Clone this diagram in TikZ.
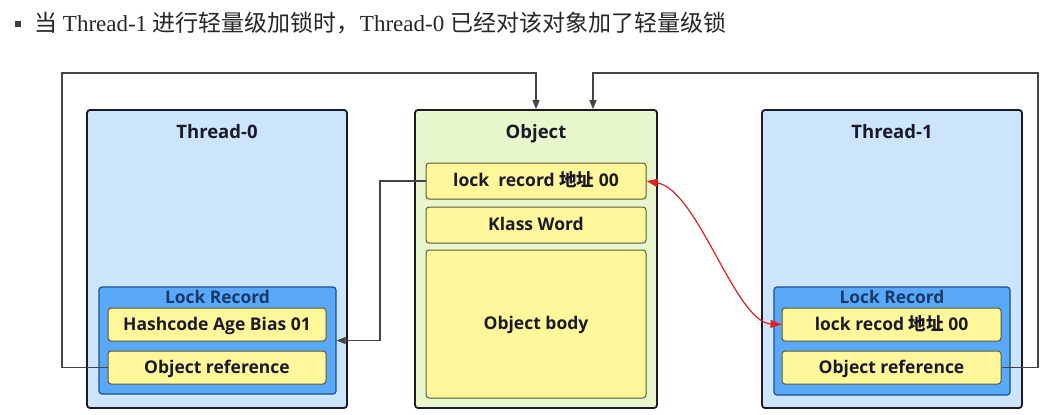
\documentclass[tikz,border=0pt]{standalone}
\usepackage{fontspec}
\setmainfont{Liberation Serif}
\newfontfamily\cjk{Noto Sans CJK SC}
\newfontfamily\lab{Open Sans}
\usetikzlibrary{arrows.meta}
\definecolor{threadfill}{HTML}{CCE5FB}
\definecolor{objfill}{HTML}{E8F7CC}
\definecolor{lrfill}{HTML}{5AA8F8}
\definecolor{lrdraw}{HTML}{1F4E8C}
\definecolor{yfill}{HTML}{FFF79A}
\definecolor{ydraw}{HTML}{5A5A3A}
\definecolor{txt}{HTML}{1A1A2A}
\definecolor{conncol}{HTML}{444444}
\definecolor{redc}{HTML}{E02020}
\tikzset{
  outerbox/.style={draw=txt, line width=1.8pt, rounded corners=3pt, inner sep=0pt},
  lrbox/.style={draw=lrdraw, line width=1.2pt, fill=lrfill, rounded corners=3pt, inner sep=0pt},
  ybox/.style={draw=ydraw, line width=1pt, fill=yfill, rounded corners=3pt, inner sep=0pt, text height=13pt, text depth=2pt, font=\lab\bfseries\fontsize{17.5}{20}\selectfont, text=txt},
  hdr/.style={font=\lab\bfseries\fontsize{18.5}{21}\selectfont, text=txt, inner sep=0pt, text height=13.5pt, text depth=2pt},
  lrhdr/.style={font=\lab\bfseries\fontsize{17.4}{20}\selectfont, text=lrdraw!75!black, inner sep=0pt},
  conn/.style={draw=conncol, line width=1.1pt},
  tip/.style={-{Triangle[length=9pt,width=7pt]}},
  redconn/.style={draw=redc, line width=1.2pt, {Triangle[length=11pt,width=8pt,fill=redc]}-{Triangle[length=11pt,width=8pt,fill=redc]}}
}
\begin{document}
\begin{tikzpicture}[x=1pt,y=-1pt]
\useasboundingbox (0,0) rectangle (1055,415);
\fill[white] (0,0) rectangle (1055,415);
% title
\node[fill=black!75, minimum size=6pt, inner sep=0pt] (bullet) at (18,24) {};
\node[anchor=west, inner sep=0pt, font=\fontsize{23}{26}\selectfont, text=black!85] (title) at (34,23)
  {{\cjk 当} Thread-1 {\cjk 进行轻量级加锁时，}Thread-0 {\cjk 已经对该对象加了轻量级锁}};
% outer boxes
\node[outerbox, fill=threadfill, minimum width=260pt, minimum height=298pt] (t0) at (217,259) {};
\node[outerbox, fill=objfill, minimum width=242pt, minimum height=298pt] (obj) at (536,259) {};
\node[outerbox, fill=threadfill, minimum width=260pt, minimum height=298pt] (t1) at (892,259) {};
\node[hdr] (t0h) at (217,133) {Thread-0};
\node[hdr] (objh) at (536,133) {Object};
\node[hdr] (t1h) at (892,133) {Thread-1};
% lock records
\node[lrbox, minimum width=237pt, minimum height=107pt] (lr0) at (217.5,340.5) {};
\node[lrbox, minimum width=236pt, minimum height=108pt] (lr1) at (892,341) {};
\node[lrhdr] (lr0h) at (217.5,297) {Lock Record};
\node[lrhdr] (lr1h) at (892,297) {Lock Record};
% yellow boxes
\node[ybox, minimum width=218pt, minimum height=33pt] (hash) at (217,324.5) {Hashcode Age Bias 01};
\node[ybox, minimum width=218pt, minimum height=33pt] (or0) at (217,367.5) {Object reference};
\node[ybox, minimum width=220pt, minimum height=36pt] (lockrec) at (536,181) {lock\ \ record {\cjk\bfseries 地址} 00};
\node[ybox, minimum width=220pt, minimum height=36pt] (klass) at (536,225) {Klass Word};
\node[ybox, minimum width=220pt, minimum height=148pt] (body) at (536,324) {Object body};
\node[ybox, minimum width=219pt, minimum height=33pt] (lockrecod) at (891.5,324.5) {lock recod {\cjk\bfseries 地址} 00};
\node[ybox, minimum width=219pt, minimum height=33pt] (or1) at (891.5,367.5) {Object reference};
% connectors
\coordinate (c1) at (62,73);
\coordinate (c2) at (1038,73);
\coordinate (c3) at (380,181);
\draw[conn, tip] (or0.west) -| (c1) -| (obj.north);
\draw[conn, tip] (or1.east) -| (c2) -| ([xshift=57pt]obj.north);
\draw[conn, tip] (lockrec.west) -- (c3) |- (lr0.east);
\draw[redconn] (lockrec.east) .. controls (698,190) and (735,322) .. (lockrecod.west);
\end{tikzpicture}
\end{document}
